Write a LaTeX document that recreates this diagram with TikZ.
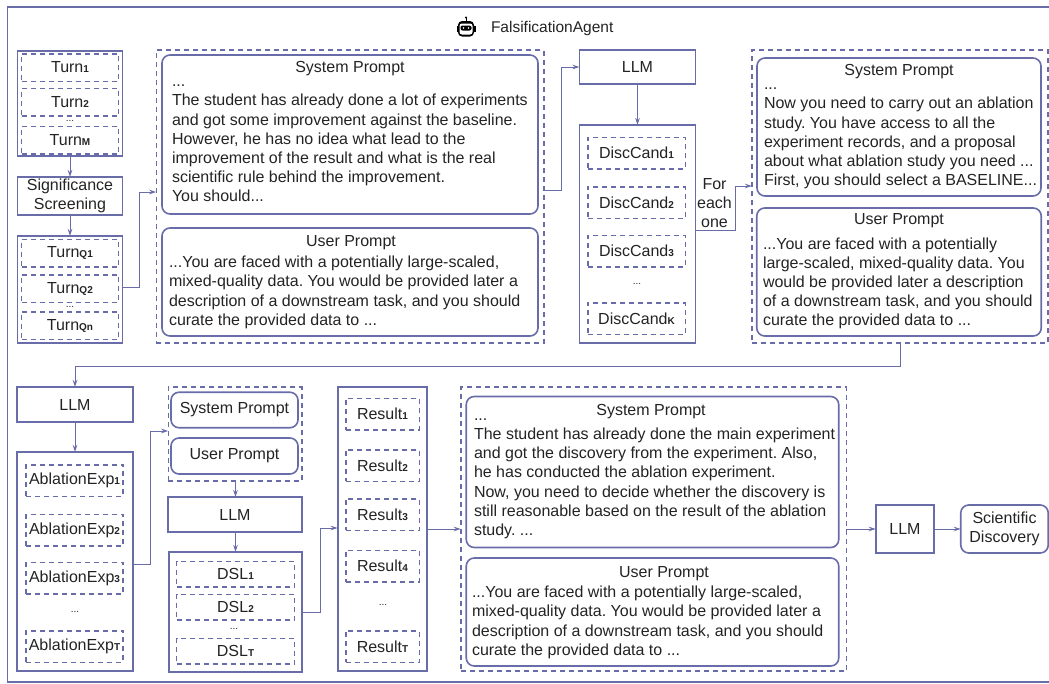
\documentclass[tikz,border=0pt]{standalone}
\usepackage{fontspec}
\setmainfont{Liberation Sans}
\usetikzlibrary{positioning,arrows.meta}
\frenchspacing
\definecolor{linecol}{RGB}{104,108,168}
\definecolor{textcol}{RGB}{35,35,35}
\newcommand{\idx}[1]{{\fontsize{10}{10}\selectfont\textbf{#1}}}
\tikzset{
    every node/.style={text=textcol,font=\fontsize{16}{19.2}\selectfont,outer sep=0pt,inner sep=0pt},
    solidbox/.style={draw=linecol,line width=1.6pt,align=center},
    dashbox/.style={draw=linecol,line width=1.5pt,dash pattern=on 5pt off 4pt,align=center},
    promptbox/.style={draw=linecol,line width=1.6pt,rounded corners=8pt,align=center},
    bodytext/.style={align=left,anchor=north west},
    dotstext/.style={font=\fontsize{10}{10}\selectfont,text=textcol},
    conn/.style={draw=linecol,line width=1pt,-{Stealth[length=7pt,width=4.5pt]}}
}
\begin{document}
\begin{tikzpicture}[x=1pt,y=-1pt]
    \useasboundingbox (0,0) rectangle (1049,683);
    \draw[linecol,line width=1.7pt] (1049,7) -- (7.5,7) -- (7.5,682) -- (1049,682);

    % robot icon and title
    \fill[black] (466,17.5) circle (1.2);
    \draw[black,line width=0.9pt] (466,18) -- (466,22);
    \fill[black,rounded corners=4pt] (458,21) rectangle (474,36.5);
    \fill[black] (456.5,26) rectangle (475.5,32);
    \fill[white,rounded corners=2.5pt] (459.5,23.5) rectangle (472.5,34.5);
    \fill[black,rounded corners=2pt] (460.5,25.5) rectangle (471.5,30.5);
    \fill[white] (463.5,28) circle (0.9) (468.5,28) circle (0.9);
    \node[anchor=west,font=\fontsize{15.5}{19}\selectfont] (title) at (491,28) {FalsificationAgent};

    % first row, left column
    \node[solidbox,minimum width=105,minimum height=105.5] (turns) at (70,103.5) {};
    \foreach \nm/\lab/\y in {turna/1/67.5,turnb/2/102,turnm/M/140}
        \node[dashbox,minimum width=97,minimum height=27.5] (\nm) at (70,\y) {Turn\idx{\lab}};
    \node[dotstext] (turndots) at (70,120.5) {...};
    \node[solidbox,minimum width=105,minimum height=38] (screen) at (70,196) {Significance\\Screening};
    \node[solidbox,minimum width=105,minimum height=107] (turnsq) at (70,289.5) {};
    \foreach \nm/\lab/\y in {turnqa/Q1/253,turnqb/Q2/288.5,turnqn/Qn/325.5}
        \node[dashbox,minimum width=97,minimum height=27.5] (\nm) at (70,\y) {Turn\idx{\lab}};
    \node[dotstext] (turnqdots) at (70,306.5) {...};
    \draw[conn] (turns) -- (screen);
    \draw[conn] (screen) -- (turnsq);

    % first prompt
    \node[dashbox,minimum width=387.5,minimum height=293] (prompta) at (350,196.5) {};
    \node[promptbox,minimum width=376,minimum height=159] (sysa) at (350,134.5) {};
    \node (sysatitle) at (350,69) {System Prompt};
    \node[bodytext] (sysatext) at (172,85) {...\\The student has already done a lot of experiments\\and got some improvement against the baseline.\\However, he has no idea what lead to the\\improvement of the result and what is the real\\scientific rule behind the improvement.\\You should...};
    \node[promptbox,minimum width=376,minimum height=108] (usera) at (350,282) {};
    \node (useratitle) at (351,243) {User Prompt};
    \node[bodytext] (useratext) at (169,256) {...You are faced with a potentially large-scaled,\\mixed-quality data. You would be provided later a\\description of a downstream task, and you should\\curate the provided data to ...};
    \draw[conn] ([yshift=2.5]turnsq.east) -- ++(16.5,0) |- ([yshift=4.5]prompta.west);

    % candidates
    \node[solidbox,minimum width=116,minimum height=34.5] (llma) at (637.5,67) {LLM};
    \node[solidbox,minimum width=116,minimum height=218] (cands) at (637.5,234) {};
    \foreach \nm/\lab/\y in {canda/1/153,candb/2/202.5,candc/3/251,candk/K/318.5}
        \node[dashbox,minimum width=97.5,minimum height=31.5] (\nm) at (636.5,\y) {DiscCand\idx{\lab}};
    \node[dotstext] (canddots) at (637,284) {...};
    \node[align=center] (foreach) at (714.5,203) {For\\each\\one};
    \draw[conn] ([yshift=6.5]prompta.east) -- ++(18,0) |- (llma.west);
    \draw[conn] (llma) -- (cands);

    % second prompt
    \node[dashbox,minimum width=296,minimum height=293] (promptb) at (900,196.5) {};
    \node[promptbox,minimum width=284,minimum height=138] (sysb) at (899,127) {};
    \node (sysbtitle) at (899,72) {System Prompt};
    \node[bodytext] (sysbtext) at (764,88) {...\\Now you need to carry out an ablation\\study. You have access to all the\\experiment records, and a proposal\\about what ablation study you need ...\\First, you should select a BASELINE...};
    \node[promptbox,minimum width=284.5,minimum height=128] (userb) at (899,272) {};
    \node (userbtitle) at (899,221) {User Prompt};
    \node[bodytext] (userbtext) at (763,237.5) {...You are faced with a potentially\\large-scaled, mixed-quality data. You\\would be provided later a description\\of a downstream task, and you should\\curate the provided data to ...};
    \draw[conn] ([yshift=4]cands.east) -- ++(39.5,0) |- ([yshift=10.5]promptb.west);

    % second row, ablation column
    \node[solidbox,minimum width=116,minimum height=35] (llmb) at (75,404.5) {LLM};
    \node[solidbox,minimum width=116,minimum height=219] (ablations) at (75,561.5) {};
    \foreach \nm/\lab/\y in {abla/1/480.5,ablb/2/530,ablc/3/578,ablt/T/646.5}
        \node[dashbox,minimum width=97,minimum height=31.5] (\nm) at (74.5,\y) {AblationExp\idx{\lab}};
    \node[dotstext] (abldots) at (75,611.5) {...};
    \draw[conn] (promptb.south) -- ++(0,23) -| (llmb.north);
    \draw[conn] (llmb) -- (ablations);

    % small prompt and dsl
    \node[dashbox,minimum width=133.5,minimum height=94] (promptc) at (235,434) {};
    \node[promptbox,minimum width=127,minimum height=35.5] (sysc) at (234.5,410) {System Prompt};
    \node[promptbox,minimum width=127,minimum height=36] (userc) at (234.5,456) {User Prompt};
    \node[solidbox,minimum width=133.5,minimum height=35] (llmc) at (235,514.5) {LLM};
    \node[solidbox,minimum width=132.5,minimum height=120] (dsls) at (235.5,612) {};
    \foreach \nm/\lab/\y in {dsla/1/574,dslb/2/607,dslt/T/651}
        \node[dashbox,minimum width=118,minimum height=25.5] (\nm) at (235.5,\y) {DSL\idx{\lab}};
    \node[dotstext] (dsldots) at (234,629) {...};
    \draw[conn] ([yshift=-2.5]ablations.east) -- ++(17,0) |- ([yshift=3]promptc.west);
    \draw[conn] (promptc.south -| dsls.north) -- (llmc.north -| dsls.north);
    \draw[conn] (llmc.south -| dsls.north) -- (dsls.north);

    % results
    \node[solidbox,minimum width=89.5,minimum height=284] (results) at (382.5,529) {};
    \foreach \nm/\lab/\y in {resa/1/414,resb/2/465.5,resc/3/514.5,resd/4/566,rest/T/646.5}
        \node[dashbox,minimum width=73.5,minimum height=31.5] (\nm) at (382.5,\y) {Result\idx{\lab}};
    \node[dotstext] (resdots) at (383,605) {...};
    \draw[conn] ([yshift=-0.5]dsls.east) -- ++(18.5,0) |- ([yshift=1]results.west);

    % third prompt
    \node[dashbox,minimum width=385.5,minimum height=284] (promptd) at (653.5,529) {};
    \node[promptbox,minimum width=372.5,minimum height=151] (sysd) at (652.5,472) {};
    \node (sysdtitle) at (651,412) {System Prompt};
    \node[bodytext] (sysdtext) at (474,418.5) {...\\The student has already done the main experiment\\and got the discovery from the experiment. Also,\\he has conducted the ablation experiment.\\Now, you need to decide whether the discovery is\\still reasonable based on the result of the ablation\\study. ...};
    \node[promptbox,minimum width=372.5,minimum height=108] (userd) at (652.5,612) {};
    \node (userdtitle) at (664,573.5) {User Prompt};
    \node[bodytext] (userdtext) at (472,586) {...You are faced with a potentially large-scaled,\\mixed-quality data. You would be provided later a\\description of a downstream task, and you should\\curate the provided data to ...};
    \draw[conn] (results.east) -- (results.east -| promptd.west);

    % last step
    \node[solidbox,minimum width=58.5,minimum height=47.5] (llmd) at (905,529) {LLM};
    \node[promptbox,minimum width=87.5,minimum height=48] (discovery) at (1004.5,529) {Scientific\\Discovery};
    \draw[conn] (promptd.east |- llmd.west) -- (llmd.west);
    \draw[conn] (llmd) -- (discovery);
\end{tikzpicture}
\end{document}
